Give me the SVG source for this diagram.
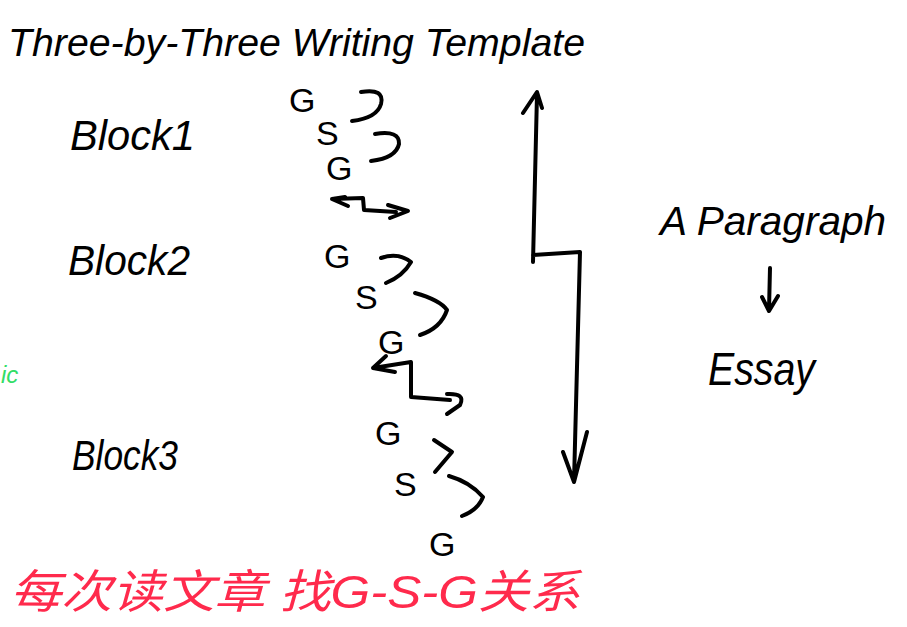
<svg xmlns="http://www.w3.org/2000/svg" width="907" height="627" viewBox="0 0 907 627">
<style>
.t{font-family:"Liberation Sans","DejaVu Sans",sans-serif;fill:#000;font-style:italic}
.g{font-family:"Liberation Sans",sans-serif;fill:#000;font-size:34px}
.s{fill:none;stroke:#000;stroke-width:4;stroke-linecap:round;stroke-linejoin:round}
.r{font-family:"Liberation Sans","Noto Sans CJK SC",sans-serif;fill:#ff2a4c;font-size:46px;font-style:italic}
</style>
<rect width="907" height="627" fill="#fff"/>
<g id="title"><text class="t" x="8" y="56" font-size="38" textLength="577" lengthAdjust="spacingAndGlyphs">Three-by-Three Writing Template</text></g>
<g id="block1">
<text class="t" x="70" y="150" font-size="42" textLength="125" lengthAdjust="spacingAndGlyphs">Block1</text>
<text class="g" x="289" y="112" font-size="32">G</text>
<text class="g" x="316" y="145" font-size="30">S</text>
<text class="g" x="326" y="180">G</text>
</g>
<g id="block2">
<text class="t" x="68" y="275" font-size="42" textLength="122" lengthAdjust="spacingAndGlyphs">Block2</text>
<text class="g" x="324" y="268">G</text>
<text class="g" x="355" y="309">S</text>
<text class="g" x="378" y="354">G</text>
</g>
<g id="block3">
<text class="t" x="72" y="470" font-size="42" textLength="106" lengthAdjust="spacingAndGlyphs">Block3</text>
<text class="g" x="375" y="445">G</text>
<text class="g" x="394" y="496">S</text>
<text class="g" x="429" y="556">G</text>
</g>
<g id="paragraph-essay">
<text class="t" x="660" y="235" font-size="41" textLength="226" lengthAdjust="spacingAndGlyphs">A Paragraph</text>
<text class="t" x="708" y="385" font-size="46" textLength="107" lengthAdjust="spacingAndGlyphs">Essay</text>
</g>
<g id="note"><text class="r" x="10" y="608" textLength="570" lengthAdjust="spacingAndGlyphs">每次读文章 找G-S-G关系</text></g>
<g id="green"><text x="1" y="383" font-family="Liberation Sans,sans-serif" font-size="24" fill="#33dd66" font-style="italic">ic</text></g>
<g id="connectors">
<path class="s" d="M361 92 Q385 88 381 104 Q377 118 352 121"/>
<path class="s" d="M375 134 Q400 130 399 144 Q396 158 371 161"/>
<path class="s" d="M345 197 L332 199 L348 206 M332 199 L363 198 L364 210 L396 212 M388 205 L408 211 L390 218"/>
<path class="s" d="M381 258 Q398 252 411 262 Q403 276 386 283"/>
<path class="s" d="M415 293 Q440 300 447 310 Q441 328 420 335"/>
<path class="s" d="M386 356 L373 368 L395 372 M373 368 L411 362 L411 397 L450 400 M447 394 Q466 393 460 405 L447 414"/>
<path class="s" d="M434 440 L452 452 L435 472"/>
<path class="s" d="M449 476 Q470 482 483 497 Q478 510 462 516"/>
<path class="s" d="M537 94 L533 262 M533 255 L580 252 L574 482 M523 113 L537 92 L542 108 M563 452 L574 482 L587 432"/>
<path class="s" d="M770 268 L769 310 M762 297 L769 311 L778 296"/>
</g>
</svg>
